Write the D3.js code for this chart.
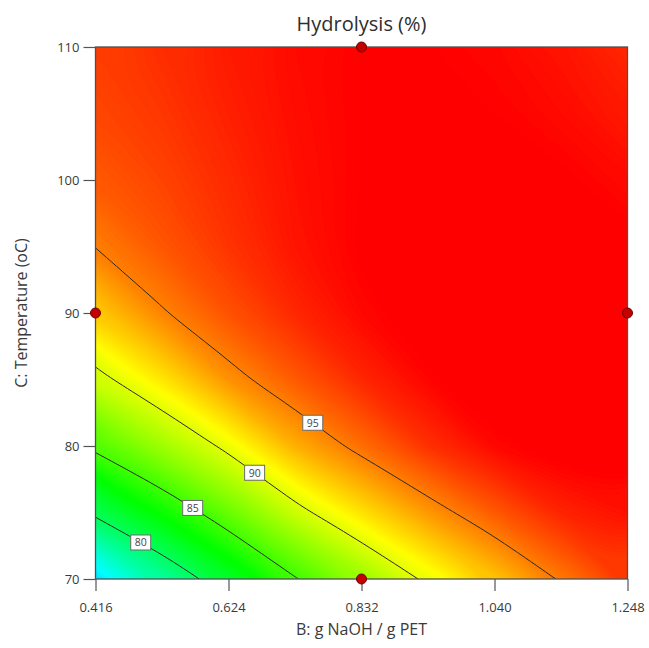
<!DOCTYPE html>
<html>
<head>
<meta charset="utf-8">
<script src="https://cdn.jsdelivr.net/npm/d3@7"></script>
<style>
  html, body { margin: 0; padding: 0; background: #ffffff; }
  svg text { font-family: "Open Sans", "Noto Sans", sans-serif; fill: #3a3a3a; }
</style>
</head>
<body>
<svg id="chart" width="649" height="648"></svg>
<script>
// Factor B levels (g NaOH / g PET) across the grid columns
const naohRatio = [0.416, 0.520, 0.624, 0.728, 0.832, 0.936, 1.040, 1.144, 1.248];
// Factor C levels (temperature, oC) down the grid rows
const temperature = [70, 75, 80, 85, 90, 95, 100, 105, 110];
// Hydrolysis (%) — one row per temperature, one column per NaOH ratio
const hydrolysis = [
  [74.1, 78.0, 81.57, 84.85, 87.67, 90.41, 92.81, 95.19, 97.2],
  [80.45, 83.32, 86.27, 89.36, 91.87, 94.22, 96.21, 97.9, 98.5],
  [85.5, 87.98, 90.48, 93.5, 95.56, 97.5, 98.8, 99.4, 99.6],
  [89.4, 91.72, 94.4, 96.2, 97.8, 98.9, 99.5, 99.8, 99.8],
  [92.6, 94.85, 96.46, 97.8, 98.8, 99.4, 99.7, 99.8, 99.6],
  [95.05, 96.3, 97.4, 98.4, 99.1, 99.5, 99.6, 99.6, 99.2],
  [96.2, 96.9, 97.7, 98.5, 99.0, 99.3, 99.3, 99.1, 98.7],
  [96.8, 97.3, 98.0, 98.6, 99.0, 99.1, 99.0, 98.7, 98.2],
  [97.1, 97.6, 98.2, 98.7, 99.0, 99.0, 98.8, 98.4, 97.8]
];
// Contour levels and the NaOH ratio where each level's tag sits
const contourLevels = [80, 85, 90, 95];
const labelRatio = [0.487, 0.568, 0.665, 0.756];
// Design points of the experiment
const designRatio = [0.832, 0.416, 1.248, 0.832];
const designTemp = [110, 90, 90, 70];
// Axis ticks
const xTicks = [0.416, 0.624, 0.832, 1.040, 1.248];
const yTicks = [70, 80, 90, 100, 110];

const plot = { left: 95.5, right: 627.5, top: 47, bottom: 579 };
const svg = d3.select("#chart");

const x = d3.scaleLinear()
  .domain([naohRatio[0], naohRatio[naohRatio.length - 1]])
  .range([plot.left, plot.right]);
const y = d3.scaleLinear()
  .domain([temperature[0], temperature[temperature.length - 1]])
  .range([plot.bottom, plot.top]);

// d3.contours places value i at grid coordinate i + 0.5
const nx = naohRatio.length, ny = temperature.length;
const gridX = d3.scaleLinear().domain([0.5, nx - 0.5]).range(x.domain());
const gridY = d3.scaleLinear().domain([0.5, ny - 0.5]).range(y.domain());
const toPixel = p => [x(gridX(p[0])), y(gridY(p[1]))];

const values = hydrolysis.flat();
const color = d3.scaleLinear()
  .domain([67, 75, 83, 91, 99])
  .range(["#0000ff", "#00ffff", "#00ff00", "#ffff00", "#ff0000"])
  .clamp(true);

svg.append("defs").append("clipPath").attr("id", "plot-clip")
  .append("rect")
  .attr("x", plot.left).attr("y", plot.top)
  .attr("width", plot.right - plot.left).attr("height", plot.bottom - plot.top);

// Smoothed outline of a contour MultiPolygon, in pixels
const closedCurve = d3.line().curve(d3.curveBasisClosed);
const bandPath = shape => shape.coordinates
  .flatMap(poly => poly.map(ring => closedCurve(ring.slice(0, -1).map(toPixel))))
  .join("");

// Colour surface: stacked threshold regions from low to high
const step = 0.1;
const lo = Math.floor(d3.min(values) * 10) / 10;
const bandLevels = d3.range(lo, d3.max(values), step);
const surface = svg.append("g").attr("clip-path", "url(#plot-clip)");
surface.append("rect")
  .attr("x", plot.left).attr("y", plot.top)
  .attr("width", plot.right - plot.left).attr("height", plot.bottom - plot.top)
  .attr("fill", color(lo));
surface.selectAll("path.band")
  .data(d3.contours().size([nx, ny]).thresholds(bandLevels)(values))
  .join("path")
  .attr("class", "band")
  .attr("d", bandPath)
  .attr("fill", d => color(d.value + step / 2))
  .attr("stroke", d => color(d.value + step / 2))
  .attr("stroke-width", 0.3);

// Contour lines: keep only the stretches of each ring that lie in the plot
const levelShapes = d3.contours().size([nx, ny]).thresholds(contourLevels)(values);
const eps = 0.01;
const inside = p => p[0] >= plot.left - eps && p[0] <= plot.right + eps &&
                    p[1] >= plot.top - eps && p[1] <= plot.bottom + eps;
function innerRuns(shape) {
  const runs = [];
  for (const poly of shape.coordinates) {
    for (const ring of poly) {
      let pts = ring.slice(0, -1).map(toPixel);
      const firstOut = pts.findIndex(p => !inside(p));
      if (firstOut < 0) { runs.push(pts.concat([pts[0]])); continue; }
      pts = pts.slice(firstOut).concat(pts.slice(0, firstOut));
      let run = [];
      for (const p of pts) {
        if (inside(p)) run.push(p);
        else { if (run.length > 1) runs.push(run); run = []; }
      }
      if (run.length > 1) runs.push(run);
    }
  }
  return runs;
}
const smoothLine = d3.line().curve(d3.curveBasis);
const lineRuns = levelShapes.map(s => ({ value: s.value, runs: innerRuns(s) }));
const levelPaths = surface.selectAll("path.level")
  .data(lineRuns.flatMap(l => l.runs.map(r => ({ value: l.value, run: r }))))
  .join("path")
  .attr("class", "level")
  .attr("d", d => smoothLine(d.run))
  .attr("fill", "none")
  .attr("stroke", "#2a2a2a")
  .attr("stroke-width", 1);

// Where a drawn contour crosses a given x pixel (searched along the path)
function pointOnPath(node, px) {
  const len = node.getTotalLength();
  let best = null;
  for (let s = 0; s <= len; s += 0.5) {
    const p = node.getPointAtLength(s);
    if (!best || Math.abs(p.x - px) < Math.abs(best[0] - px)) best = [p.x, p.y];
  }
  return best;
}

const tags = svg.append("g");
contourLevels.forEach((level, i) => {
  const node = levelPaths.filter(d => d.value === level).node();
  if (!node) return;
  const p = pointOnPath(node, x(labelRatio[i]));
  const g = tags.append("g").attr("transform", `translate(${p[0]},${p[1]})`);
  g.append("rect")
    .attr("x", -10).attr("y", -7.5).attr("width", 20).attr("height", 15)
    .attr("fill", "#ffffff").attr("stroke", "#6a6a6a").attr("stroke-width", 1);
  g.append("text")
    .attr("text-anchor", "middle").attr("dy", "0.36em")
    .style("font-size", "10.5px").style("fill", "#444")
    .text(level);
});

// Plot frame
svg.append("rect")
  .attr("x", plot.left).attr("y", plot.top)
  .attr("width", plot.right - plot.left).attr("height", plot.bottom - plot.top)
  .attr("fill", "none").attr("stroke", "#505050").attr("stroke-width", 1.3);

// Axes
const xAxis = svg.append("g")
  .attr("transform", `translate(0,${plot.bottom})`)
  .call(d3.axisBottom(x).tickValues(xTicks).tickFormat(d3.format(".3f")).tickSize(12).tickPadding(12));
const yAxis = svg.append("g")
  .attr("transform", `translate(${plot.left},0)`)
  .call(d3.axisLeft(y).tickValues(yTicks).tickFormat(d3.format("d")).tickSize(12).tickPadding(4));
[xAxis, yAxis].forEach(a => {
  a.select(".domain").remove();
  a.selectAll(".tick line").attr("stroke", "#555").attr("stroke-width", 1.2);
  a.selectAll(".tick text").style("font-size", "13px").style("fill", "#3a3a3a")
    .style("font-family", '"Open Sans", sans-serif');
});

// Design points
svg.append("g").selectAll("circle")
  .data(designRatio.map((r, i) => [r, designTemp[i]]))
  .join("circle")
  .attr("cx", d => x(d[0])).attr("cy", d => y(d[1]))
  .attr("r", 5)
  .attr("fill", "#c40000").attr("stroke", "#6b0000").attr("stroke-width", 1);

// Titles
svg.append("text")
  .attr("x", (plot.left + plot.right) / 2).attr("y", 26)
  .attr("text-anchor", "middle").attr("dominant-baseline", "middle")
  .style("font-size", "20px").style("fill", "#2e2e2e")
  .text("Hydrolysis (%)");
svg.append("text")
  .attr("x", (plot.left + plot.right) / 2).attr("y", 631)
  .attr("text-anchor", "middle").attr("dominant-baseline", "middle")
  .style("font-size", "16px").style("fill", "#3a3a3a")
  .text("B: g NaOH / g PET");
svg.append("text")
  .attr("transform", `translate(23,${(plot.top + plot.bottom) / 2}) rotate(-90)`)
  .attr("text-anchor", "middle").attr("dominant-baseline", "middle")
  .style("font-size", "16px").style("fill", "#3a3a3a")
  .text("C: Temperature (oC)");
</script>
</body>
</html>
